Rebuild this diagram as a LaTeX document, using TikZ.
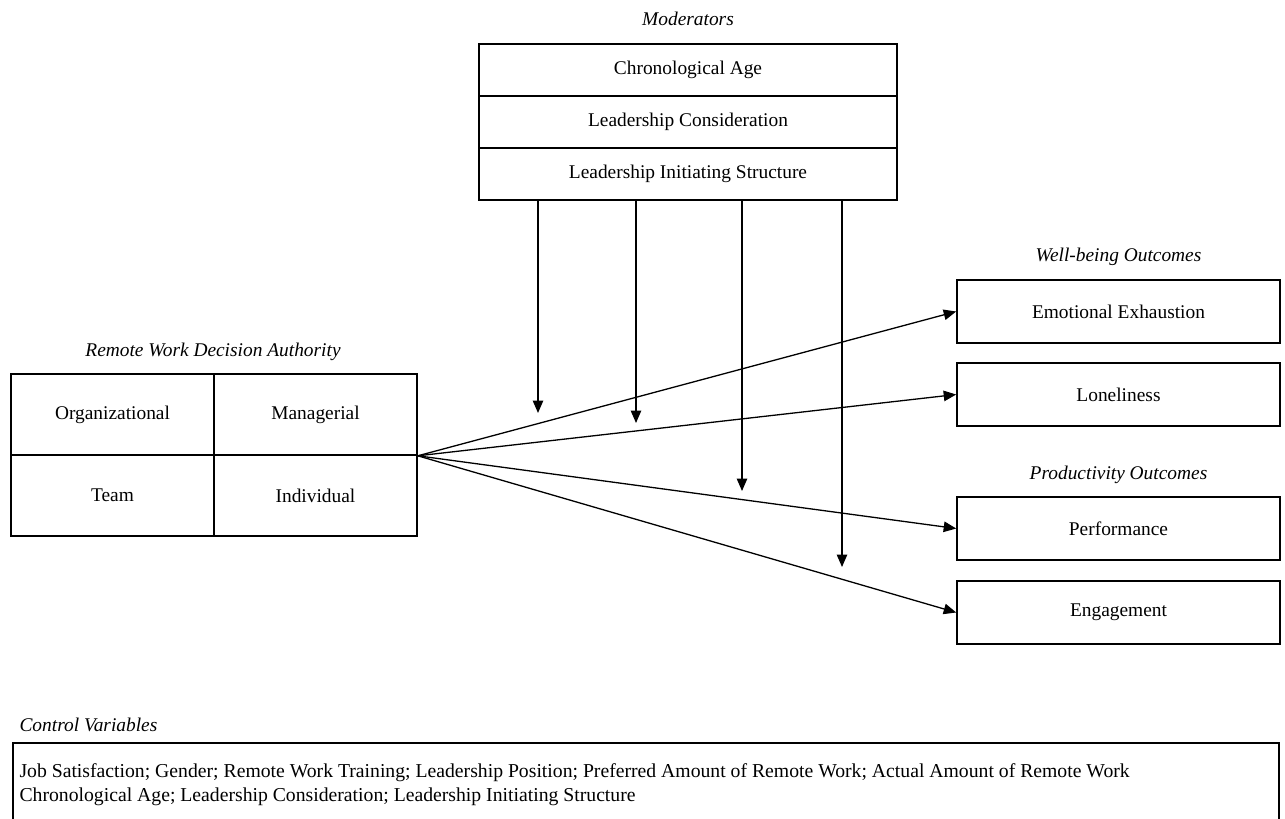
\documentclass[tikz,border=0pt]{standalone}
\usepackage{fontspec}
\setmainfont{Liberation Serif}
\usetikzlibrary{arrows.meta}
\begin{document}
\begin{tikzpicture}[
  x={(1pt,0)}, y={(0,-1pt)},
  txt/.style={font=\fontsize{19.4}{24}\selectfont},
  heading/.style={txt, font=\fontsize{19.4}{24}\selectfont\itshape},
  cell/.style={txt, draw, line width=1.6pt, inner sep=0pt},
  modcell/.style={cell, minimum width=418, minimum height=52},
  gridcell/.style={cell, minimum width=203, minimum height=81},
  outcell/.style={cell, minimum width=323, minimum height=63},
  link/.style={line width=1.3pt, -{Triangle[length=12.5pt,width=10.5pt]}}
]
\useasboundingbox (0,0) rectangle (1285,819);

% moderators
\node[heading] (modhead) at (688,19) {Moderators};
\node[modcell] (age)  at (688,70)  {Chronological Age};
\node[modcell] (cons) at (688,122) {Leadership Consideration};
\node[modcell] (lis)  at (688,174) {Leadership Initiating Structure};

% decision authority grid
\node[heading] (authhead) at (213,352) {Remote Work Decision Authority};
\node[gridcell] (org)  at (112.5,414.5) {Organizational};
\node[gridcell] (man)  at (315.5,414.5) {Managerial};
\node[gridcell] (team) at (112.5,495.5) {Team};
\node[gridcell] (ind)  at (315.5,495.5) {Individual};

% outcomes
\node[heading] (wellhead) at (1118.5,257) {Well-being Outcomes};
\node[outcell] (ee)   at (1118.5,311.5) {Emotional Exhaustion};
\node[outcell] (lon)  at (1118.5,394.5) {Loneliness};
\node[heading] (prodhead) at (1118.5,475) {Productivity Outcomes};
\node[outcell] (perf) at (1118.5,528.5) {Performance};
\node[outcell] (eng)  at (1118.5,612.5) {Engagement};

% direct paths
\draw[link] (man.south east) -- (ee.west);
\draw[link] (man.south east) -- (lon.west);
\draw[link] (man.south east) -- (perf.west);
\draw[link] (man.south east) -- (eng.west);

% moderating paths
\coordinate (m1) at (538,413);
\coordinate (m2) at (636,423);
\coordinate (m3) at (742,491);
\coordinate (m4) at (842,567);
\foreach \m in {m1,m2,m3,m4}
  \draw[link] (lis.south -| \m) -- (\m);

% control variables
\node[heading, anchor=west] (ctrlhead) at (16,725) {Control Variables};
\node[draw, line width=1.6pt, anchor=north west, minimum width=1266, minimum height=120, inner sep=0pt] (ctrl) at (12,742) {};
\node[txt, font=\fontsize{19.7}{24}\selectfont, anchor=west, align=left] (ctrltext) at (16,785)
  {Job Satisfaction; Gender; Remote Work Training; Leadership Position; Preferred Amount of Remote Work; Actual Amount of Remote Work\\
   Chronological Age; Leadership Consideration; Leadership Initiating Structure};
\end{tikzpicture}
\end{document}
